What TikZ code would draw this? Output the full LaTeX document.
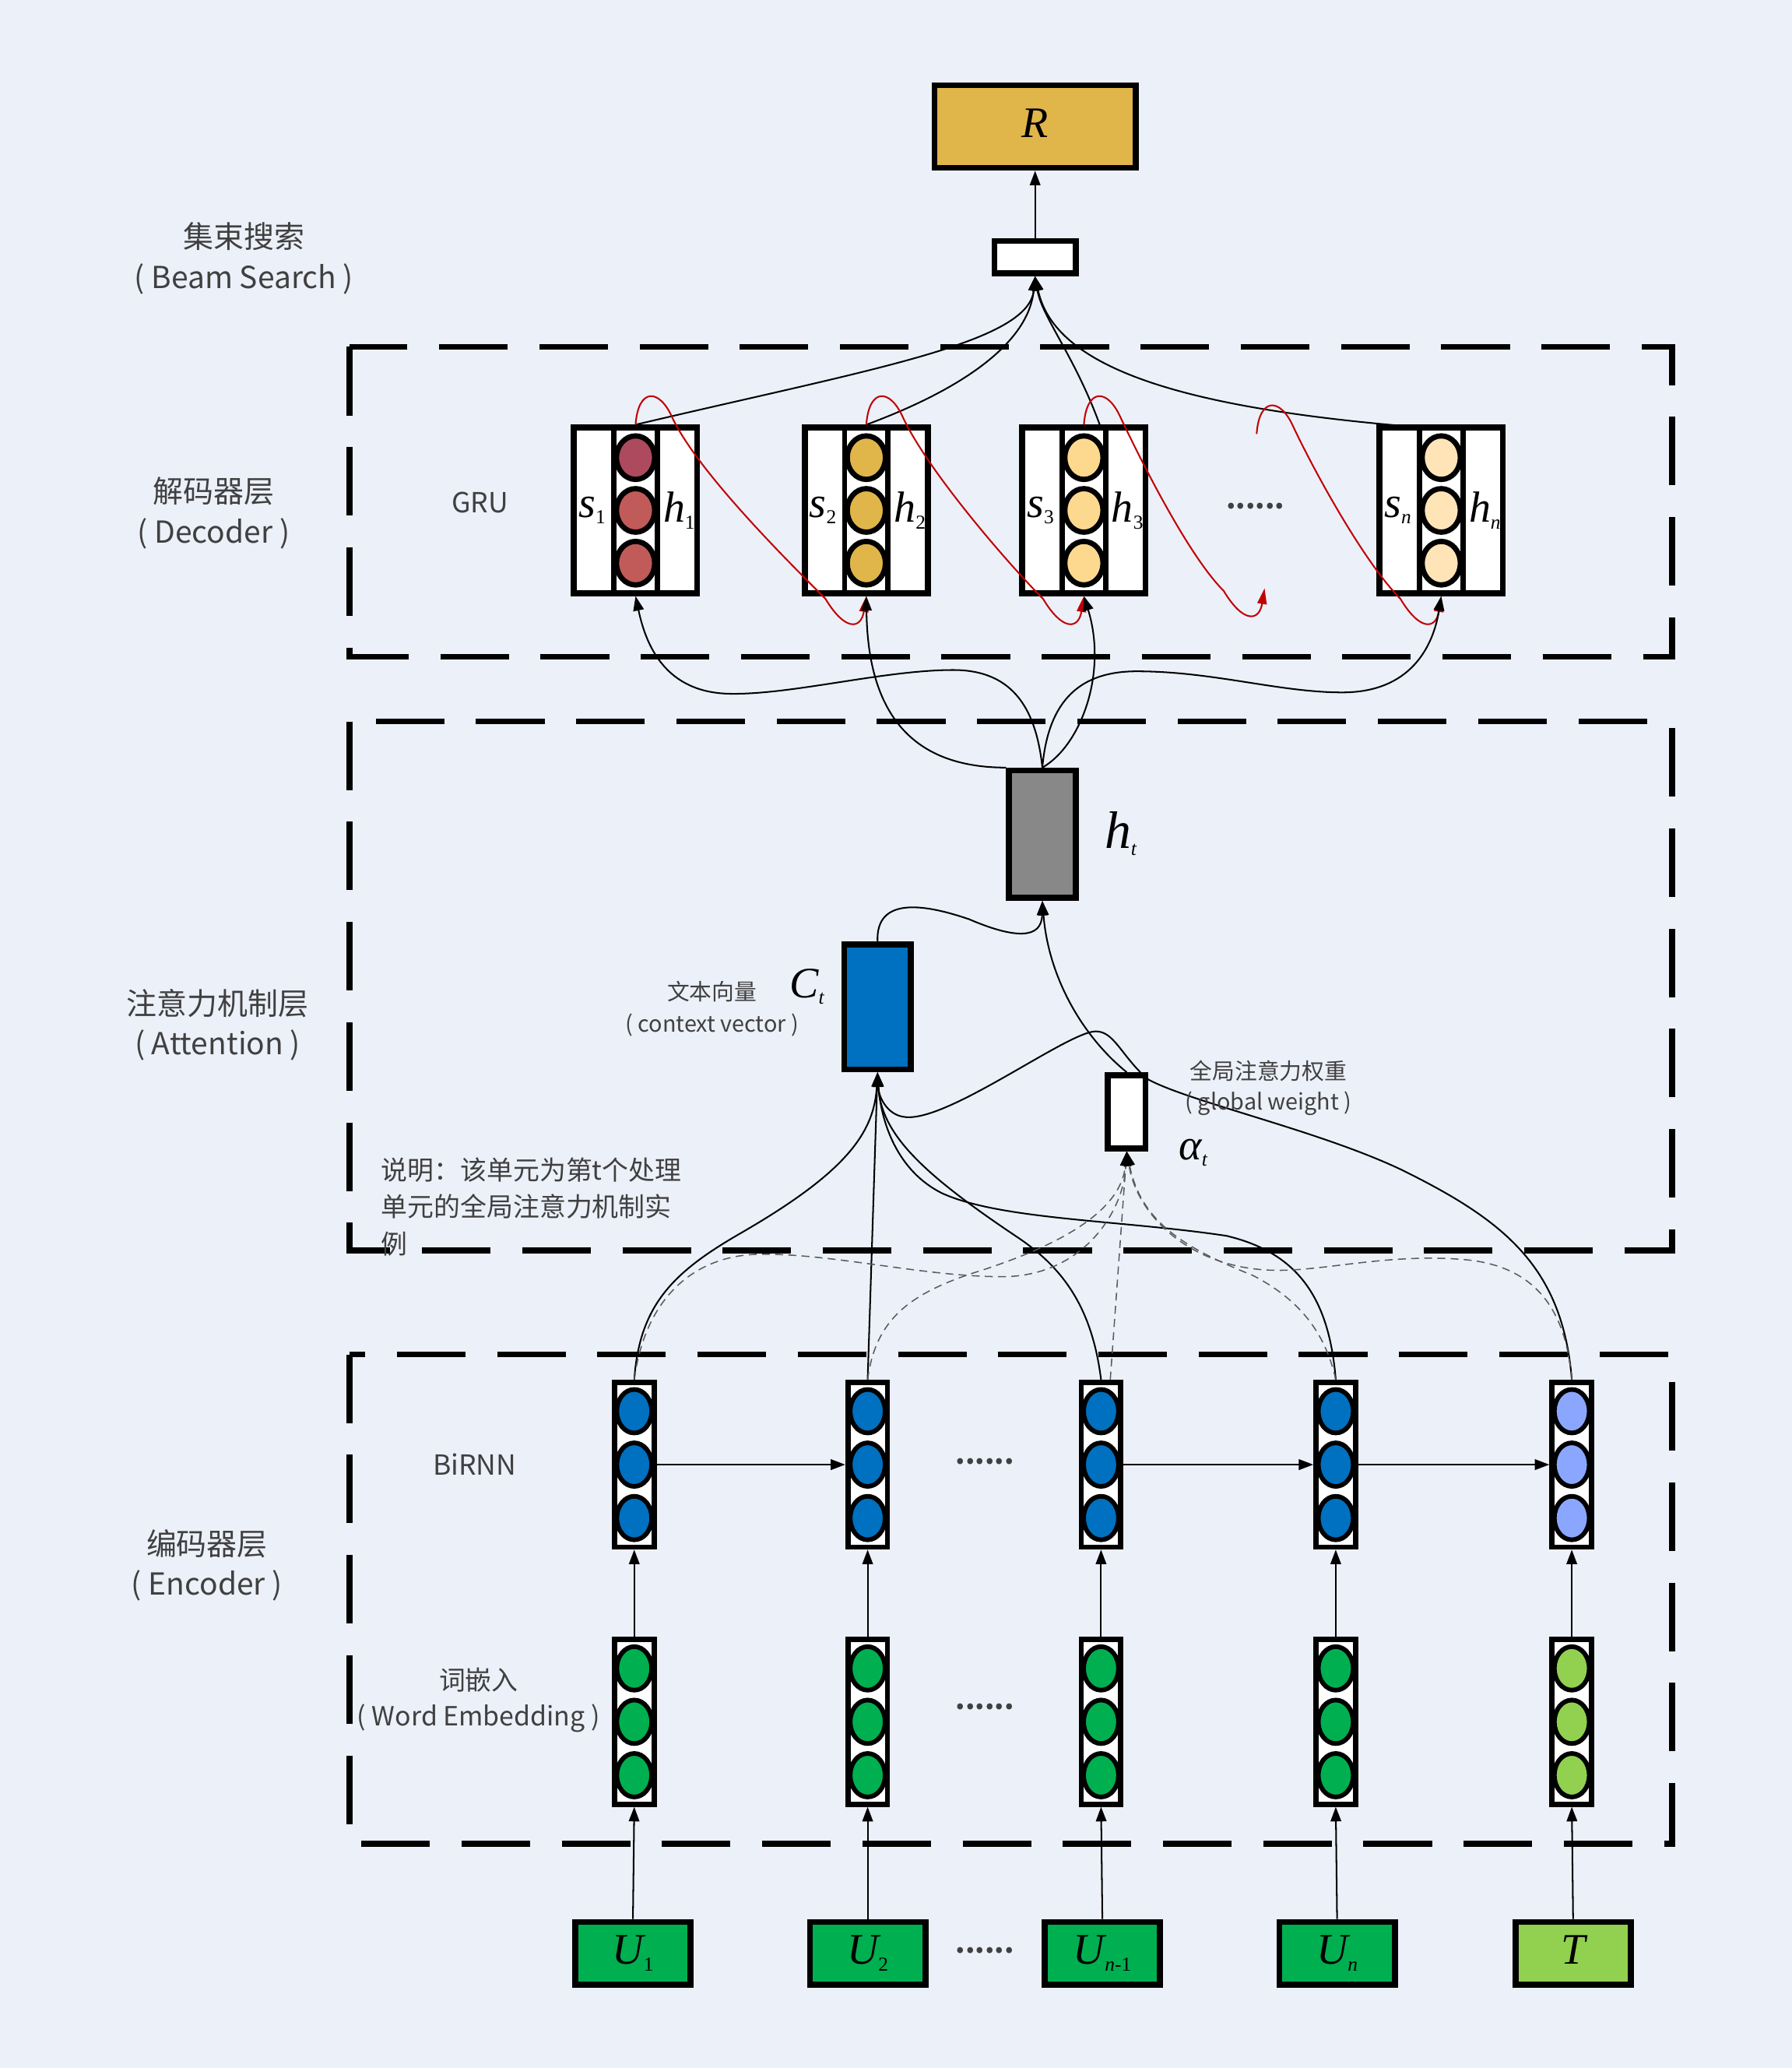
\documentclass[tikz,border=0pt]{standalone}
\usepackage{fontspec}
\setmainfont{Noto Sans CJK SC}
\newfontfamily\tnr{Liberation Serif}
\usetikzlibrary{arrows.meta,shapes.geometric,calc}
\pgfdeclarelayer{bglayer}
\pgfsetlayers{bglayer,main}
\definecolor{bgc}{HTML}{ECF0F9}
\definecolor{txt}{HTML}{404040}
\definecolor{gold}{HTML}{E0B54A}
\definecolor{rosea}{HTML}{AE4A5E}
\definecolor{roseb}{HTML}{C05B5A}
\definecolor{peach}{HTML}{FDD98F}
\definecolor{cream}{HTML}{FFE4B8}
\definecolor{blu}{HTML}{0070C0}
\definecolor{lblu}{HTML}{8AA6FF}
\definecolor{grn}{HTML}{00AF50}
\definecolor{lgrn}{HTML}{92D050}
\definecolor{gry}{HTML}{888888}
\definecolor{darkred}{HTML}{C00000}
\definecolor{dgray}{HTML}{5A5A5A}
\newcommand{\vv}[3]{{\tnr\fontsize{#1}{#1}\selectfont\itshape #2}{\tnr\fontsize{15}{15}\selectfont\raisebox{-5pt}{#3}}}
\tikzset{
 box/.style={draw=black, line width=4.5pt, inner sep=0pt},
 cir/.style={ellipse, draw=black, line width=4pt, minimum width=29pt, minimum height=33pt, inner sep=0pt},
 ecir/.style={ellipse, draw=black, line width=3.5pt, minimum width=26.5pt, minimum height=33pt, inner sep=0pt},
 arr/.style={line width=1.2pt, -{Triangle[length=11pt,width=8pt]}},
 redarr/.style={draw=darkred, line width=1.2pt, -{Triangle[length=12pt,width=7pt]}},
 darr/.style={draw=dgray, line width=0.9pt, dash pattern=on 6pt off 4pt, -{Triangle[length=11pt,width=8pt,color=black]}},
 frame/.style={line width=4.5pt, dash pattern=on 52pt off 24pt},
 lab/.style={text=txt, align=center, inner sep=0pt},
}
\newcommand{\grucell}[7]{%
 \node[box, fill=white, minimum width=93.5pt, minimum height=125.5pt] (#1) at (#2,387) {};
 \draw[line width=4pt] ($(#1.north)+(-16.5,0)$) -- ($(#1.south)+(-16.5,0)$);
 \draw[line width=4pt] ($(#1.north)+(16.5,0)$) -- ($(#1.south)+(16.5,0)$);
 \node[cir, fill=#3] (#1a) at (#2,347) {};
 \node[cir, fill=#4] (#1b) at (#2,387) {};
 \node[cir, fill=#5] (#1c) at (#2,427) {};
 \node[inner sep=0pt] (#1s) at ($(#1)+(-33,0)$) {\vv{33}{s}{#6}};
 \node[inner sep=0pt] (#1h) at ($(#1)+(33,0)$) {\vv{33}{h}{#7}};
}
\newcommand{\enccell}[4]{%
 \node[box, line width=4pt, fill=white, minimum width=30pt, minimum height=125pt] (#1) at (#2,#3) {};
 \node[ecir, fill=#4] (#1a) at (#2,#3-40.5) {};
 \node[ecir, fill=#4] (#1b) at (#2,#3) {};
 \node[ecir, fill=#4] (#1c) at (#2,#3+40.5) {};
}
\newcommand{\redc}[2]{\draw[redarr] (#1) .. controls ($(#1)+(2,-28)$) and ($(#1)+(18,-28)$) .. ($(#1)+(28,-5)$) .. controls ($(#1)+(48,37)$) and ($(#2)+(-56,-23)$) .. ($(#2)+(-31,2)$) .. controls ($(#2)+(-16,27)$) and ($(#2)+(-4,25)$) .. (#2);}
\begin{document}
\begin{tikzpicture}[x=1pt,y=-1pt]
\begin{pgfonlayer}{bglayer}
\fill[bgc] (0,0) rectangle (1359,1568);
\end{pgfonlayer}
\useasboundingbox (0,0) rectangle (1359,1568);

% layer frames
\draw[frame] (265,263) rectangle (1268,498);
\draw[frame] (265,547) rectangle (1268,948);
\draw[frame] (265,1027) rectangle (1268,1398);

% labels
\node[lab, font=\fontsize{23}{31}\selectfont] (lbeam) at (185,196) {集束搜索\\( Beam Search )};
\node[lab, font=\fontsize{23}{31}\selectfont] (ldec) at (162,389) {解码器层\\( Decoder )};
\node[lab, font=\fontsize{23}{30}\selectfont] (latt) at (165,777) {注意力机制层\\( Attention )};
\node[lab, font=\fontsize{23}{30}\selectfont] (lenc) at (157,1187) {编码器层\\( Encoder )};
\node[lab, font=\fontsize{21}{27}\selectfont] (lgru) at (364,381) {GRU};
\node[lab, font=\fontsize{21}{27}\selectfont] (lbir) at (360,1110) {BiRNN};
\node[lab, font=\fontsize{20}{27}\selectfont] (lemb) at (363,1289) {词嵌入\\( Word Embedding )};
\node[lab, font=\fontsize{17}{24}\selectfont] (lctx) at (540,765) {文本向量\\( context vector )};
\node[lab, font=\fontsize{17}{23}\selectfont] (lgw) at (962,825) {全局注意力权重\\( global weight )};
\node[lab, font=\fontsize{20}{28}\selectfont, align=left, anchor=west] (lnote) at (289,915) {说明：该单元为第t个处理\\单元的全局注意力机制实\\例};

% top
\node[box, fill=gold, minimum width=152.5pt, minimum height=62.5pt] (R) at (785,96) {\vv{33}{R}{}};
\node[box, fill=white, minimum width=61.5pt, minimum height=24.5pt] (bs) at (785,195) {};
\draw[arr] (bs.north) -- (R.south);

% decoder cells
\grucell{g1}{482}{rosea}{roseb}{roseb}{1}{1}
\grucell{g2}{657}{gold}{gold}{gold}{2}{2}
\grucell{g3}{822}{peach}{peach}{peach}{3}{3}
\grucell{gn}{1093}{cream}{cream}{cream}{\textit{n}}{\textit{n}}
\node[lab, font=\fontsize{21}{24}\selectfont\bfseries] (ddots) at (952,384) {......};

% decoder -> beam search
\draw[arr] (g1.north) .. controls (660,280) and (780,260) .. (bs.south);
\draw[arr] (g2.north) .. controls (730,295) and (780,260) .. (bs.south);
\draw[arr] ($(g3.north)+(12,0)$) .. controls (815,270) and (790,240) .. (bs.south);
\draw[arr] ($(gn.north)+(-16,2)$) .. controls (900,310) and (800,280) .. (bs.south);

% attention nodes
\node[box, fill=gry, minimum width=50.5pt, minimum height=96.5pt] (ht) at (790.5,632.5) {};
\node[inner sep=0pt] (htl) at (850,632) {\vv{40}{h}{\textit{t}}};
\node[box, fill=blu, minimum width=50.5pt, minimum height=94.5pt] (ct) at (665.5,763.5) {};
\node[inner sep=0pt] (ctl) at (612,748) {\vv{33}{C}{\textit{t}}};
\node[box, fill=white, minimum width=28.5pt, minimum height=55.5pt] (al) at (854.5,843) {};
\node[inner sep=0pt] (all) at (905,874) {\vv{33}{α}{\textit{t}}};

% red recurrent links
\coordinate (r3e) at (959,446);
\coordinate (r4s) at (953,329);
\redc{g1.north}{g2.south}
\redc{g2.north}{g3.south}
\redc{g3.north}{r3e}
\redc{r4s}{gn.south}

% h_t -> decoder cells
\draw[arr] (ht.north) .. controls (786,540) and (770,508) .. (723,508) .. controls (670,508) and (600,527) .. (553,526) .. controls (505,525) and (490,490) .. (g1.south);
\draw[arr] (ht.north west) .. controls (695,582) and (658,545) .. (g2.south);
\draw[arr] (ht.north) .. controls (820,565) and (840,510) .. (g3.south);
\draw[arr] (ht.north) .. controls (795,530) and (820,509) .. (862,509) .. controls (920,509) and (970,525) .. (1018,525) .. controls (1070,525) and (1087,490) .. (gn.south);

% context, alpha -> h_t
\draw[arr] (ct.north) .. controls (664,680) and (700,685) .. (735,697) .. controls (770,712) and (790,712) .. (ht.south);
\draw[arr] (al.north) .. controls (820,785) and (795,740) .. (ht.south);

% encoder
\enccell{e1}{481}{1110.5}{blu}
\enccell{e2}{658}{1110.5}{blu}
\enccell{e3}{835}{1110.5}{blu}
\enccell{e4}{1013}{1110.5}{blu}
\enccell{e5}{1192}{1110.5}{lblu}
\node[lab, font=\fontsize{21}{24}\selectfont\bfseries] (edots) at (747,1108) {......};
\draw[arr] (e1.east) -- (e2.west);
\draw[arr] (e3.east) -- (e4.west);
\draw[arr] (e4.east) -- (e5.west);

% embedding
\enccell{w1}{481}{1305.5}{grn}
\enccell{w2}{658}{1305.5}{grn}
\enccell{w3}{835}{1305.5}{grn}
\enccell{w4}{1013}{1305.5}{grn}
\enccell{w5}{1192}{1305.5}{lgrn}
\node[lab, font=\fontsize{21}{24}\selectfont\bfseries] (wdots) at (747,1294) {......};
\foreach \i in {1,...,5} {\draw[arr] (w\i.north) -- (e\i.south);}

% inputs
\node[box, fill=grn, minimum width=87.5pt, minimum height=47.5pt] (u1) at (480,1481) {\vv{33}{U}{1}};
\node[box, fill=grn, minimum width=87.5pt, minimum height=47.5pt] (u2) at (658,1481) {\vv{33}{U}{2}};
\node[box, fill=grn, minimum width=87.5pt, minimum height=47.5pt] (u3) at (836,1481) {\vv{33}{U}{\textit{n}-1}};
\node[box, fill=grn, minimum width=87.5pt, minimum height=47.5pt] (u4) at (1014,1481) {\vv{33}{U}{\textit{n}}};
\node[box, fill=lgrn, minimum width=87.5pt, minimum height=47.5pt] (u5) at (1193,1481) {\vv{33}{T}{}};
\node[lab, font=\fontsize{21}{24}\selectfont\bfseries] (udots) at (747,1479) {......};
\foreach \i in {1,...,5} {\draw[arr] (u\i.north) -- (w\i.south);}

% encoder -> context vector
\draw[arr] (e1.north) .. controls (485,990) and (510,965) .. (560,936) .. controls (640,890) and (663,860) .. (ct.south);
\draw[arr] (e2.north) -- (ct.south);
\draw[arr] (e3.north) .. controls (828,990) and (805,960) .. (770,937) .. controls (700,890) and (668,860) .. (ct.south);
\draw[arr] (e4.north) .. controls (1008,985) and (985,950) .. (930,937) .. controls (850,925) and (760,925) .. (715,905) .. controls (680,888) and (668,850) .. (ct.south);
\begin{pgfonlayer}{bglayer}
\draw[arr] (e5.north) .. controls (1185,960) and (1140,925) .. (1063,887) .. controls (1000,857) and (900,835) .. (870,818) .. controls (850,800) and (845,782) .. (831,782) .. controls (810,782) and (720,850) .. (687,847) .. controls (672,846) and (666,830) .. (ct.south);
\end{pgfonlayer}

% encoder -> alpha (dashed)
\draw[darr] (e1.north) .. controls (490,980) and (530,952) .. (575,951) .. controls (630,950) and (700,968) .. (760,968) .. controls (820,968) and (852,920) .. (al.south);
\draw[darr] (e2.north) .. controls (664,1000) and (690,980) .. (745,963) .. controls (800,945) and (850,920) .. (al.south);
\draw[darr] ($(e3.north)+(7,0)$) -- (al.south);
\draw[darr] (e4.north) .. controls (1005,1010) and (985,985) .. (950,967) .. controls (895,945) and (865,925) .. (al.south);
\draw[darr] (e5.north) .. controls (1188,1000) and (1170,960) .. (1110,955) .. controls (1050,950) and (1000,965) .. (962,963) .. controls (900,960) and (862,920) .. (al.south);
\end{tikzpicture}
\end{document}
